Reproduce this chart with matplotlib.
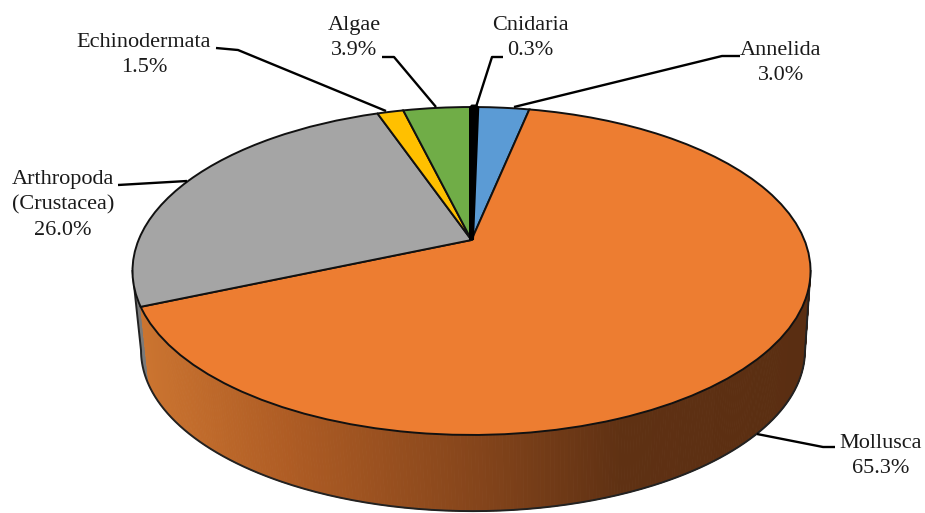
import numpy as np
import matplotlib
matplotlib.use("Agg")
import matplotlib.pyplot as plt
from matplotlib.transforms import Transform
from matplotlib.collections import PolyCollection
from matplotlib.colors import LinearSegmentedColormap

categories = ["Cnidaria", "Annelida", "Mollusca", "Arthropoda\n(Crustacea)", "Echinodermata", "Algae"]
values = [0.3, 3.0, 65.3, 26.0, 1.5, 3.9]
value_labels = ["0.3%", "3.0%", "65.3%", "26.0%", "1.5%", "3.9%"]
colors = ["#000000", "#5B9BD5", "#ED7D31", "#A5A5A5", "#FFC000", "#70AD47"]

plt.rcParams["font.family"] = ["Liberation Serif", "DejaVu Serif"]
fig = plt.figure(figsize=(9.25, 5.13), dpi=100)
ax = fig.add_axes([0, 0, 1, 1])

K = 0.189


class Perspective(Transform):
    input_dims = 2
    output_dims = 2
    is_separable = False
    has_inverse = False

    def __init__(self, cx, cy, a, b):
        super().__init__()
        self.cx, self.cy, self.a, self.b = cx, cy, a, b

    def transform_non_affine(self, values):
        v = np.asarray(values, float)
        d = 1 + K * v[:, 1]
        return np.column_stack([self.cx + self.a * v[:, 0] / d, self.cy - self.b * v[:, 1] / d])


top = Perspective(471.5, 240, 332.9, 158.1)
bottom = Perspective(473, 320, 326, 155)

wedges, _ = ax.pie(values, colors=colors, startangle=90, counterclock=False,
                   wedgeprops=dict(edgecolor="#111111", linewidth=1.4, zorder=5))
ax.set_aspect("auto")
ax.set_xlim(0, 925)
ax.set_ylim(513, 0)
ax.axis("off")
for w in wedges:
    w.set_transform(top + ax.transData)
    w.set_clip_on(False)
wedges[0].set_edgecolor("#000000")
wedges[0].set_linewidth(3.6)
wedges[0].set_joinstyle("bevel")
wedges[0].set_zorder(6)

# side wall of the disc
edges = 90 - 3.6 * np.concatenate([[0], np.cumsum(values)])
grad = LinearSegmentedColormap.from_list(
    "wall", [(0, "#CB7430"), (0.22, "#AE5C24"), (0.5, "#85451B"), (0.72, "#5F3113"), (1, "#5A2E12")])


def rim(tf, deg):
    r = np.radians(deg)
    return tf.transform_non_affine(np.column_stack([np.cos(r), np.sin(r)]))


idx_m = categories.index("Mollusca")
idx_g = categories.index("Arthropoda\n(Crustacea)")
side = np.degrees(np.arcsin(K))  # where the disc is widest on screen
# Mollusca wall: front part only
theta = np.linspace(-side, edges[idx_m + 1], 300)
t, b = rim(top, theta), rim(bottom, theta)
polys, cols = [], []
for i in range(len(theta) - 1):
    polys.append([t[i], t[i + 1], b[i + 1], b[i]])
    mid = (t[i, 0] + t[i + 1, 0]) / 2
    cols.append(grad(np.clip((mid - 140) / 670, 0, 1)))
ax.add_collection(PolyCollection(polys, facecolors=cols, edgecolors=cols, linewidths=0.7, zorder=2))
# Arthropoda wall
theta2 = np.linspace(edges[idx_g], -180 + side, 12)
t2, b2 = rim(top, theta2), rim(bottom, theta2)
ax.fill(np.r_[t2[:, 0], b2[::-1, 0]], np.r_[t2[:, 1], b2[::-1, 1]],
        color="#7A7A7A", zorder=1, lw=0)
# wall outline
sil = np.vstack([t[:1], b, b2, t2[-1:]])
ax.plot(sil[:, 0], sil[:, 1], color="#222222", lw=1.4, zorder=3)

# leader lines
leaders = {
    "Cnidaria": [(476, 107), (492, 57), (503, 57)],
    "Annelida": [(514, 107), (722, 56), (740, 56)],
    "Mollusca": [(757, 434), (823, 447), (835, 447)],
    "Arthropoda\n(Crustacea)": [(187, 181), (118, 185)],
    "Echinodermata": [(386, 111), (238, 50), (216, 48)],
    "Algae": [(436, 107), (394, 57), (382, 57)],
}
label_pos = {
    "Cnidaria": (530, 38),
    "Annelida": (781, 63),
    "Mollusca": (881, 456),
    "Arthropoda\n(Crustacea)": (63, 205),
    "Echinodermata": (144, 55),
    "Algae": (354, 38),
}
for cat, val in zip(categories, value_labels):
    pts = np.array(leaders[cat])
    ax.plot(pts[:, 0], pts[:, 1], color="black", lw=1.7, zorder=7, solid_capstyle="butt")
    x, y = label_pos[cat]
    ax.text(x, y, f"{cat}\n{val}", ha="center", va="center", fontsize=16, color="#1a1a1a",
            linespacing=1.47, zorder=8)

fig.savefig("out.png", dpi=100)
